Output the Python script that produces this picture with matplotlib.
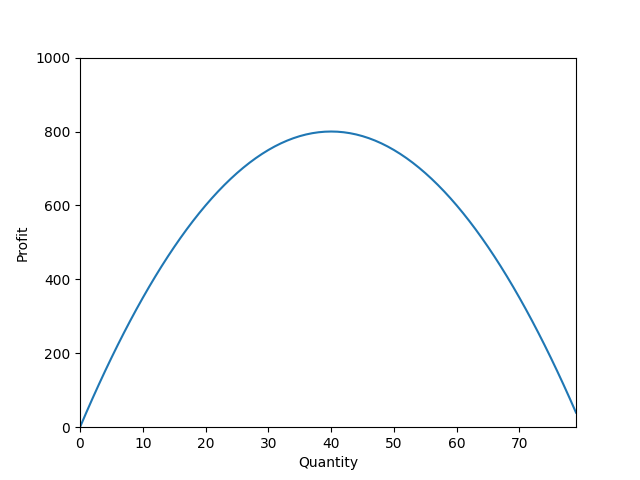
import matplotlib
matplotlib.use("Agg")
import matplotlib.pyplot as plt

quantity = list(range(0, 80))
profit = [0, 39.5, 78, 115.5, 152, 187.5, 222, 255.5, 288, 319.5,
          350, 379.5, 408, 435.5, 462, 487.5, 512, 535.5, 558, 579.5,
          600, 619.5, 638, 655.5, 672, 687.5, 702, 715.5, 728, 739.5,
          750, 759.5, 768, 775.5, 782, 787.5, 792, 795.5, 798, 799.5,
          800, 799.5, 798, 795.5, 792, 787.5, 782, 775.5, 768, 759.5,
          750, 739.5, 728, 715.5, 702, 687.5, 672, 655.5, 638, 619.5,
          600, 579.5, 558, 535.5, 512, 487.5, 462, 435.5, 408, 379.5,
          350, 319.5, 288, 255.5, 222, 187.5, 152, 115.5, 78, 39.5]

fig, ax = plt.subplots(figsize=(6.4, 4.8), dpi=100)
ax.plot(quantity, profit, color="#1f77b4")
ax.set_xlim(0, 79)
ax.set_ylim(0, 1000)
ax.set_xlabel("Quantity")
ax.set_ylabel("Profit")
fig.savefig("out.png")
